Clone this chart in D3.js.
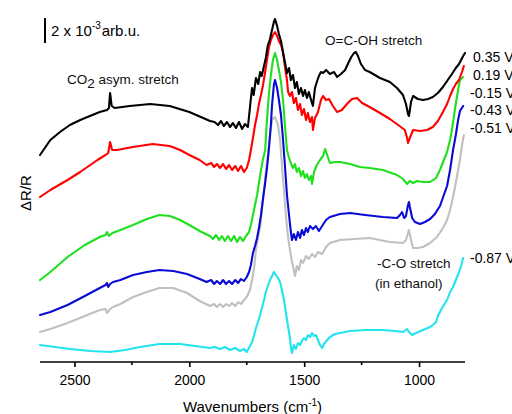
<!DOCTYPE html>
<html lang="en">
<head>
    <meta charset="UTF-8">
    <title>IR spectra vs potential</title>
    <script src="https://d3js.org/d3.v7.min.js"></script>
    <style>
        body { margin: 0; background: #fff; }
        svg { font-family: Arial, "Liberation Sans", sans-serif; }
        .trace { fill: none; stroke-width: 2.1; stroke-linejoin: round; stroke-linecap: round; }
        .axis path, .axis line { stroke: #000; stroke-width: 1.6; }
        .axis text { font-size: 14px; fill: #000; }
        .note { font-size: 13.5px; fill: #111; }
        .vlabel { font-size: 14px; fill: #000; }
    </style>
</head>
<body>
<svg width="512" height="414"></svg>
<script>
    // x: wavenumber (cm-1), y: dR/R in arbitrary units (offset traces as plotted)
    const majorTicks = [2500, 2000, 1500, 1000];
    const minorTicks = [2250, 1750, 1250];
    const potentials = ["0.35 V", "0.19 V", "-0.15 V", "-0.43 V", "-0.51 V", "-0.87 V"];
    const colors = ["#000000", "#ff0000", "#1ee01e", "#0a0ad6", "#c0c0c0", "#22e4ee"];

    const trace035 = [[2650,207],[2605,222],[2563,230],[2520,237],[2475,242],[2390,250],[2358,252],[2350,254],[2345,269],[2338,256],[2325,254],
        [2260,256],[2170,258],[2085,256],[2000,250],[1930,243],[1910,241],[1890,240],[1875,237],[1862,241],[1850,236],[1836,240],[1823,235],
        [1810,239],[1797,234],[1784,240],[1770,233],[1758,238],[1745,235],[1735,257],[1727,274],[1720,267],[1710,284],[1700,278],[1692,290],
        [1685,286],[1675,296],[1667,304],[1658,317],[1650,322],[1640,332],[1632,340],[1627,343],[1618,336],[1610,328],[1600,320],[1592,309],
        [1584,300],[1575,289],[1566,294],[1558,282],[1549,287],[1540,274],[1532,280],[1523,268],[1514,274],[1505,266],[1497,272],[1488,264],
        [1480,270],[1470,262],[1462,256],[1453,274],[1445,280],[1436,286],[1427,290],[1418,289],[1405,292],[1388,288],[1370,290],[1357,285],
        [1340,288],[1322,292],[1310,298],[1295,305],[1283,309],[1275,310],[1266,306],[1253,298],[1235,292],[1215,290],[1170,284],[1127,280],
        [1096,274],[1070,267],[1057,258],[1048,248],[1044,246],[1035,260],[1026,266],[1005,263],[983,262],[961,263],[940,265],[918,269],
        [896,275],[875,282],[857,288],[840,294],[826,298],[817,302],[808,306],[800,309]];

    const trace019 = [[2650,165],[2605,172],[2530,182],[2475,190],[2400,202],[2365,207],[2353,209],[2345,220],[2336,212],[2315,212],
        [2245,215],[2160,218],[2085,216],[2040,212],[2000,207],[1955,202],[1925,197],[1905,199],[1892,195],[1880,198],[1866,194],[1853,198],
        [1840,193],[1827,197],[1814,192],[1800,196],[1788,191],[1775,196],[1762,190],[1750,194],[1740,202],[1732,212],[1723,224],[1714,237],
        [1705,247],[1697,258],[1688,267],[1680,276],[1670,290],[1662,302],[1654,314],[1645,322],[1636,327],[1627,330],[1618,326],[1610,321],
        [1601,317],[1592,310],[1584,296],[1575,282],[1570,270],[1562,266],[1553,270],[1545,259],[1536,264],[1527,252],[1518,258],[1510,247],
        [1501,253],[1492,242],[1484,249],[1475,240],[1466,245],[1462,232],[1453,244],[1440,250],[1427,262],[1418,266],[1405,262],[1392,263],
        [1375,256],[1357,250],[1336,252],[1314,258],[1292,263],[1270,264],[1248,259],[1215,255],[1170,249],[1127,243],[1085,236],[1062,232],
        [1052,224],[1048,219],[1040,224],[1026,232],[996,231],[965,232],[940,235],[918,241],[896,250],[878,258],[865,266],[852,273],
        [840,278],[826,282],[813,290],[805,296]];

    const traceM015 = [[2650,82],[2605,90],[2530,105],[2455,117],[2390,125],[2365,127],[2358,130],[2350,126],[2335,129],[2300,132],
        [2245,137],[2185,143],[2130,147],[2085,146],[2040,142],[2000,137],[1955,131],[1910,126],[1897,123],[1884,127],[1870,122],[1858,126],
        [1845,121],[1832,126],[1818,121],[1805,126],[1792,120],[1780,125],[1766,121],[1753,126],[1740,130],[1732,137],[1723,147],[1714,157],
        [1705,167],[1697,179],[1688,192],[1680,202],[1670,212],[1662,242],[1654,267],[1645,287],[1636,302],[1627,309],[1618,302],[1610,292],
        [1601,280],[1592,262],[1584,237],[1575,212],[1566,204],[1558,199],[1549,194],[1540,198],[1532,190],[1523,194],[1514,186],[1505,191],
        [1497,184],[1488,188],[1480,182],[1470,186],[1466,178],[1457,190],[1445,197],[1431,202],[1418,206],[1409,213],[1400,207],[1388,199],
        [1366,200],[1344,200],[1300,198],[1257,195],[1215,194],[1157,192],[1096,187],[1070,183],[1052,178],[1040,181],[1026,179],[1009,181],
        [983,180],[952,180],[926,184],[909,192],[892,202],[878,210],[865,222],[857,232],[843,254],[830,272],[822,282],[808,285]];

    const traceM043 = [[2650,47],[2605,50],[2530,57],[2455,66],[2390,74],[2365,77],[2358,79],[2353,75],[2345,78],[2332,80],[2300,82],
        [2245,87],[2185,90],[2130,92],[2070,91],[2010,88],[1955,83],[1925,80],[1905,82],[1892,78],[1880,81],[1866,78],[1853,82],[1840,78],
        [1827,81],[1814,78],[1800,82],[1788,79],[1775,83],[1762,81],[1750,85],[1740,90],[1732,97],[1723,109],[1714,116],[1705,124],[1697,134],
        [1688,147],[1680,162],[1670,179],[1662,194],[1654,212],[1645,237],[1640,257],[1632,277],[1627,282],[1618,274],[1610,262],[1601,247],
        [1592,222],[1584,197],[1575,167],[1566,147],[1558,130],[1553,122],[1545,128],[1536,122],[1527,130],[1518,124],[1510,132],[1501,127],
        [1492,134],[1484,130],[1475,136],[1462,133],[1449,136],[1436,131],[1422,136],[1405,142],[1388,145],[1344,148],[1300,149],[1235,147],
        [1157,145],[1096,144],[1083,147],[1074,150],[1065,144],[1057,146],[1048,157],[1044,160],[1040,155],[1030,144],[1018,140],[996,138],
        [974,140],[952,143],[931,148],[909,156],[892,167],[878,176],[865,192],[852,212],[840,227],[830,242],[822,251],[808,256]];

    const traceM051 = [[2650,30],[2605,33],[2530,39],[2455,46],[2390,52],[2365,53],[2358,49],[2345,53],[2332,55],[2300,58],[2245,65],
        [2185,70],[2130,74],[2070,74],[2010,69],[1955,61],[1910,56],[1892,58],[1880,55],[1866,58],[1853,55],[1840,58],[1827,56],[1814,59],
        [1800,56],[1788,60],[1775,58],[1762,62],[1750,65],[1736,72],[1727,82],[1718,94],[1710,112],[1701,125],[1692,134],[1684,152],
        [1675,172],[1667,190],[1658,207],[1649,227],[1640,242],[1627,245],[1614,237],[1605,222],[1597,197],[1588,172],[1580,147],[1571,127],
        [1562,112],[1553,100],[1545,92],[1540,86],[1532,96],[1523,92],[1514,102],[1505,99],[1492,106],[1480,103],[1466,108],[1453,105],
        [1440,110],[1422,108],[1405,115],[1388,119],[1344,122],[1279,123],[1215,124],[1127,120],[1070,119],[1057,122],[1044,132],[1035,122],
        [1026,114],[1005,114],[983,115],[952,119],[922,125],[896,134],[878,142],[865,152],[852,165],[840,179],[830,192],[822,202],[813,217],
        [805,227]];

    const traceM087 = [[2650,17],[2585,15],[2520,13],[2430,11],[2345,10],[2280,12],[2215,15],[2130,18],[2040,18],[1975,16],[1910,14],
        [1890,15],[1866,13],[1845,15],[1823,12],[1800,14],[1779,11],[1762,13],[1750,10],[1736,16],[1727,20],[1718,27],[1710,34],[1701,40],
        [1692,47],[1684,54],[1675,62],[1667,70],[1658,76],[1649,82],[1640,86],[1632,90],[1623,87],[1614,84],[1605,80],[1597,72],[1588,62],
        [1580,50],[1571,37],[1562,24],[1558,14],[1553,9],[1545,17],[1536,13],[1527,19],[1518,17],[1510,21],[1501,24],[1492,22],[1484,27],
        [1475,25],[1466,29],[1457,26],[1449,27],[1440,22],[1431,17],[1422,14],[1414,18],[1400,22],[1388,25],[1366,28],[1344,29],[1300,31],
        [1235,32],[1157,32],[1105,31],[1070,30],[1052,33],[1044,30],[1030,27],[1013,29],[983,32],[952,35],[940,37],[926,40],[918,46],
        [900,54],[878,62],[865,70],[852,75],[840,82],[826,90],[817,96],[808,104]];

    const traces = [trace035, trace019, traceM015, traceM043, traceM051, traceM087];
    // value where each potential label sits (same y units as the traces)
    const labelLevels = [305, 287, 269, 252, 234, 104];
    const scaleBarValue = 25; // 2 x 10^-3 in plot units

    const margin = { top: 0, right: 47, bottom: 52, left: 40 };
    const width = 512 - margin.left - margin.right;
    const height = 414 - margin.top - margin.bottom;

    const svg = d3.select("svg");
    const g = svg.append("g").attr("transform", `translate(${margin.left},${margin.top})`);

    const x = d3.scaleLinear().domain([2650, 800]).range([0, width]);
    const y = d3.scaleLinear().domain([0, 362]).range([height, 0]);

    const line = d3.line().x(d => x(d[0])).y(d => y(d[1]));

    // draw grey first so blue sits over it
    const order = [4, 5, 3, 2, 1, 0];
    order.forEach(i => {
        g.append("path")
            .datum(traces[i])
            .attr("class", "trace")
            .attr("stroke", colors[i])
            .attr("d", line);
    });

    // x axis
    const xAxis = g.append("g")
        .attr("class", "axis")
        .attr("transform", `translate(0,${height})`)
        .call(d3.axisBottom(x).tickValues(majorTicks).tickSize(5).tickSizeOuter(0).tickPadding(8).tickFormat(d3.format("d")));
    xAxis.selectAll(".minor")
        .data(minorTicks)
        .enter()
        .append("line")
        .attr("class", "minor")
        .attr("x1", d => x(d)).attr("x2", d => x(d))
        .attr("y1", 0).attr("y2", 3)
        .attr("stroke", "#000").attr("stroke-width", 1.6);
    xAxis.select(".domain").attr("d", `M0,0H${width}`);

    const title = svg.append("text")
        .attr("x", margin.left + width / 2)
        .attr("y", 412)
        .attr("text-anchor", "middle")
        .style("font-size", "15px");
    title.append("tspan").text("Wavenumbers (cm");
    title.append("tspan").attr("dy", -6).style("font-size", "10px").text("-1");
    title.append("tspan").attr("dy", 6).text(")");

    svg.append("text")
        .attr("transform", "translate(31,193) rotate(-90)")
        .attr("text-anchor", "middle")
        .style("font-size", "15px")
        .text("\u0394R/R");

    // potential labels
    g.selectAll(".vlabel")
        .data(potentials)
        .enter()
        .append("text")
        .attr("class", "vlabel")
        .attr("x", (d, i) => width + (d.startsWith("-") ? 5 : 8))
        .attr("y", (d, i) => y(labelLevels[i]))
        .attr("dy", "0.35em")
        .text(d => d);

    // scale bar
    g.append("line")
        .attr("x1", 5).attr("x2", 5)
        .attr("y1", 18).attr("y2", 18 + (y(0) - y(scaleBarValue)))
        .attr("stroke", "#000").attr("stroke-width", 2);
    const sb = svg.append("text").attr("x", 51).attr("y", 36).style("font-size", "15px");
    sb.append("tspan").text("2 x 10");
    sb.append("tspan").attr("dy", -7).style("font-size", "10px").text("-3");
    sb.append("tspan").attr("dy", 7).attr("dx", 1).text("arb.u.");

    const co2 = svg.append("text").attr("class", "note").attr("x", 67).attr("y", 84);
    co2.append("tspan").text("CO");
    co2.append("tspan").attr("dy", 4).text("2");
    co2.append("tspan").attr("dy", -4).text(" asym. stretch");

    svg.append("text").attr("class", "note").attr("x", 325).attr("y", 45).text("O=C-OH stretch");
    svg.append("text").attr("class", "note").attr("x", 377).attr("y", 268).text("-C-O stretch");
    svg.append("text").attr("class", "note").attr("x", 375).attr("y", 288).text("(in ethanol)");
</script>
</body>
</html>
